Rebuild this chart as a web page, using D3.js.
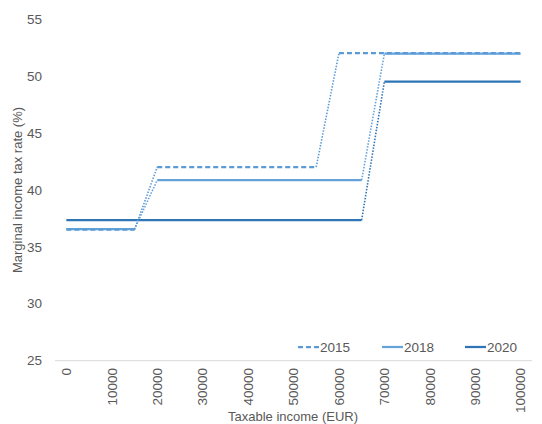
<!DOCTYPE html>
<html><head><meta charset="utf-8">
<script src="https://cdn.jsdelivr.net/npm/d3@7"></script>
<style>
html,body{margin:0;padding:0;background:#fff;}
text{font-family:"Liberation Sans",Arial,sans-serif;fill:#595959;}
</style></head>
<body>
<svg id="c" width="542" height="424"></svg>
<script>
const categories = [0,5000,10000,15000,20000,25000,30000,35000,40000,45000,50000,55000,60000,65000,70000,75000,80000,85000,90000,95000,100000];
const tickLabels = ["0","10000","20000","30000","40000","50000","60000","70000","80000","90000","100000"];
const yTicks = [25,30,35,40,45,50,55];
const seriesNames = ["2015","2018","2020"];
const values2015 = [36.5,36.5,36.5,36.5,42,42,42,42,42,42,42,42,52,52,52,52,52,52,52,52,52];
const values2018 = [36.55,36.55,36.55,36.55,40.85,40.85,40.85,40.85,40.85,40.85,40.85,40.85,40.85,40.85,51.95,51.95,51.95,51.95,51.95,51.95,51.95];
const values2020 = [37.35,37.35,37.35,37.35,37.35,37.35,37.35,37.35,37.35,37.35,37.35,37.35,37.35,37.35,49.5,49.5,49.5,49.5,49.5,49.5,49.5];

const svg = d3.select("#c");
const x = d3.scalePoint().domain(categories).range([55,532]).padding(0.5);
const y = d3.scaleLinear().domain([25,55]).range([360.7,19]);

const styles = {
  "2015": {color:"#5B9BD5", dash:"5,3"},
  "2018": {color:"#65A2DA", dash:null},
  "2020": {color:"#2E75B6", dash:null}
};
const series = [
  {name:"2018", values:values2018},
  {name:"2020", values:values2020},
  {name:"2015", values:values2015}
];

// axis line
svg.append("line").attr("x1",55).attr("x2",532).attr("y1",y(25)).attr("y2",y(25))
  .attr("stroke","#d9d9d9").attr("stroke-width",1);

// y tick labels
svg.append("g").selectAll("text").data(yTicks).join("text")
  .attr("x",42).attr("y",d=>y(d)).attr("dy","0.35em").attr("text-anchor","end")
  .attr("font-size",13.5).text(d=>d);

// x tick labels
svg.append("g").selectAll("text").data(tickLabels).join("text")
  .attr("transform",d=>`translate(${x(+d)},368) rotate(-90)`)
  .attr("dy","0.35em").attr("text-anchor","end").attr("font-size",13.5).text(d=>d);

// axis titles
svg.append("text").attr("x",293).attr("y",421).attr("text-anchor","middle")
  .attr("font-size",13).text("Taxable income (EUR)");
svg.append("text").attr("transform","translate(22,190) rotate(-90)")
  .attr("text-anchor","middle").attr("font-size",13).text("Marginal income tax rate (%)");

const line = d3.line().x(d=>x(d.c)).y(d=>y(d.v));

series.forEach(s=>{
  const st = styles[s.name];
  const pts = categories.map((c,i)=>({c, v:s.values[i]}));
  // flat runs and transition segments
  let run=[pts[0]];
  for(let i=1;i<pts.length;i++){
    if(pts[i].v===pts[i-1].v){ run.push(pts[i]); }
    else{
      if(run.length>1) drawRun(run);
      svg.append("path").attr("d",line([pts[i-1],pts[i]])).attr("fill","none")
        .attr("stroke",st.color).attr("stroke-width",1.6).attr("stroke-dasharray","1.5,1.5");
      run=[pts[i]];
    }
  }
  if(run.length>1) drawRun(run);
  function drawRun(r){
    const p = svg.append("path").attr("d",line(r)).attr("fill","none")
      .attr("stroke",st.color).attr("stroke-width",2.25);
    if(st.dash) p.attr("stroke-dasharray",st.dash);
  }
});

// legend
const legendX = [298,382,465];
const lg = svg.append("g");
seriesNames.forEach((n,i)=>{
  const st = styles[n];
  const l = lg.append("line").attr("x1",legendX[i]).attr("x2",legendX[i]+21)
    .attr("y1",347).attr("y2",347).attr("stroke",st.color).attr("stroke-width",2.25);
  if(st.dash) l.attr("stroke-dasharray","5,3");
  lg.append("text").attr("x",legendX[i]+22).attr("y",347).attr("dy","0.35em")
    .attr("font-size",13.5).text(n);
});
</script>
</body></html>
